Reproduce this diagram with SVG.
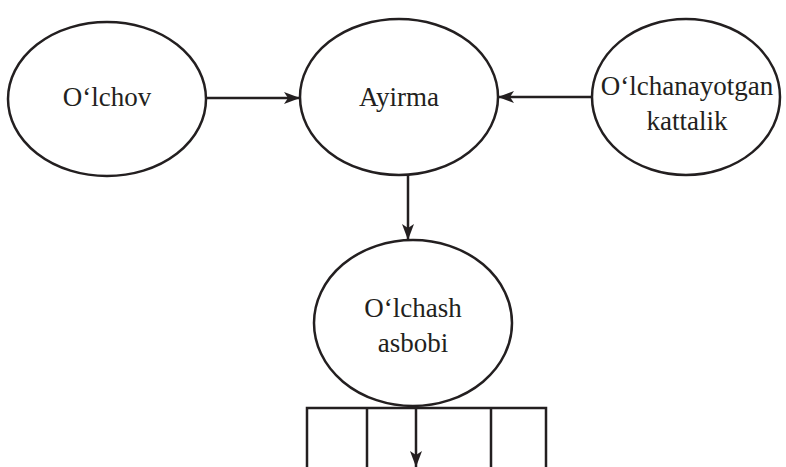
<svg xmlns="http://www.w3.org/2000/svg" width="786" height="467" viewBox="0 0 786 467">
<defs>
<style>
.n{fill:#fff;stroke:#231f20;stroke-width:2.5}
.t{font-family:'Liberation Serif','Times New Roman',serif;font-size:27px;fill:#231f20;text-anchor:middle}
.c{stroke:#231f20;stroke-width:2.5;fill:none}
</style>
<marker id="ah" viewBox="0 0 16 12" refX="16" refY="6" markerWidth="16" markerHeight="12" markerUnits="userSpaceOnUse" orient="auto">
<path d="M0,0 L16,6 L0,12 L4,6 Z" fill="#231f20"/>
</marker>
</defs>
<rect width="786" height="467" fill="#fff"/>
<g id="nodes">
<g id="olchov">
<ellipse class="n" cx="107" cy="99" rx="99" ry="77"/>
<text class="t" x="107" y="106">O‘lchov</text>
</g>
<g id="ayirma">
<ellipse class="n" cx="399" cy="97" rx="99" ry="78"/>
<text class="t" x="399" y="106">Ayirma</text>
</g>
<g id="olchanayotgan">
<ellipse class="n" cx="686" cy="97" rx="94" ry="78"/>
<text class="t" x="687" y="95">O‘lchanayotgan</text>
<text class="t" x="687" y="130">kattalik</text>
</g>
<g id="olchash">
<ellipse class="n" cx="413" cy="323" rx="99" ry="83"/>
<text class="t" x="413" y="317">O‘lchash</text>
<text class="t" x="413" y="352">asbobi</text>
</g>
<g id="scale">
<path class="c" d="M307,467 V408 H546 V467 M367,408 V467 M491,408 V467"/>
</g>
</g>
<g id="connectors">
<line class="c" x1="207" y1="98" x2="300" y2="98" marker-end="url(#ah)"/>
<line class="c" x1="592" y1="97" x2="498" y2="97" marker-end="url(#ah)"/>
<line class="c" x1="408" y1="175" x2="408" y2="240" marker-end="url(#ah)"/>
<line class="c" x1="416" y1="408" x2="416" y2="467" marker-end="url(#ah)"/>
</g>
</svg>
